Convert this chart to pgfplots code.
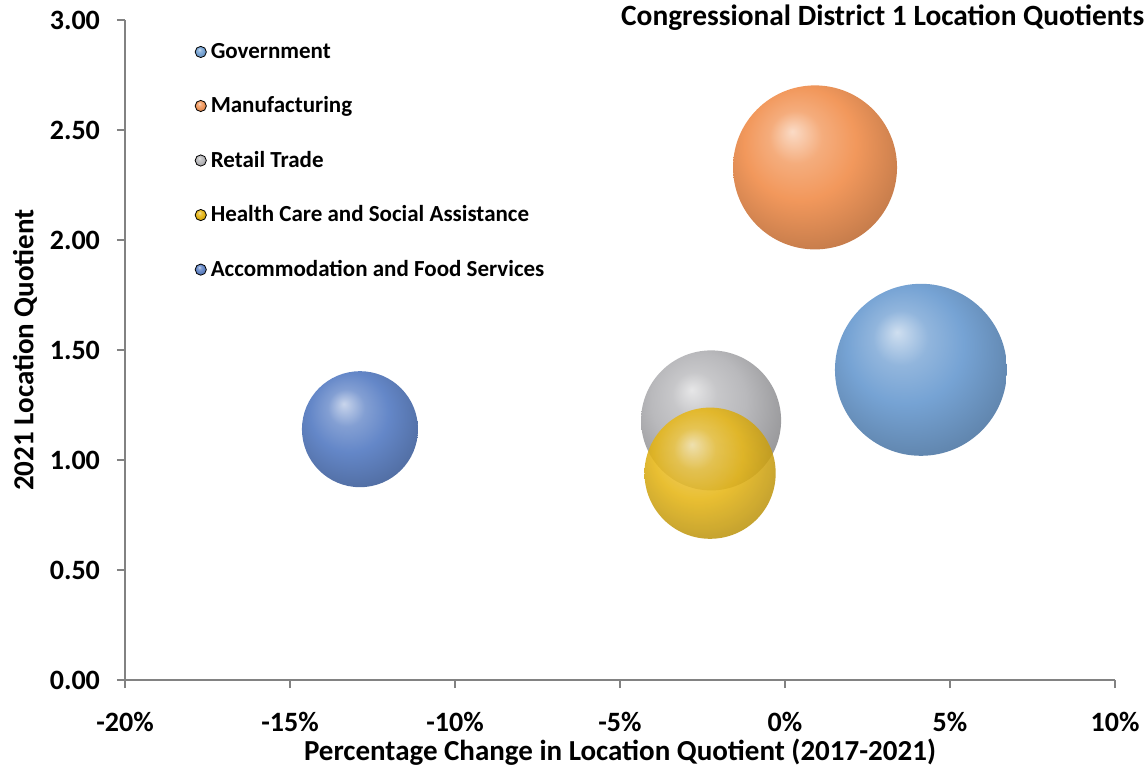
\documentclass[border=0pt]{standalone}
\usepackage{fontspec}
\setmainfont{Carlito}
\usepackage{pgfplots}
\pgfplotsset{compat=1.18}

\definecolor{govblue}{RGB}{118,163,212}
\definecolor{manorange}{RGB}{242,152,92}
\definecolor{retgray}{RGB}{185,185,188}
\definecolor{healthgold}{RGB}{230,182,22}
\definecolor{accblue}{RGB}{100,135,200}
\definecolor{axisgray}{RGB}{130,130,130}

% one shading and one plot mark per series
\newcommand\mkball[2]{%
  \pgfdeclareradialshading{#1shade}{\pgfpoint{-7bp}{11bp}}{%
    color(0bp)=(#2!35!white); color(8bp)=(#2!80!white); color(17bp)=(#2);
    color(30bp)=(#2!82!black); color(40bp)=(#2!76!black); color(50bp)=(#2!76!black)}%
  \pgfdeclareplotmark{#1ball}{%
    \pgfpathcircle{\pgfpointorigin}{\pgfplotmarksize}%
    \pgfshadepath{#1shade}{0}\pgfusepath{}}%
}
\mkball{gov}{govblue}
\mkball{man}{manorange}
\mkball{ret}{retgray}
\mkball{hea}{healthgold}
\mkball{acc}{accblue}

\begin{document}
\begin{tikzpicture}
\useasboundingbox (-62.5pt,-48pt) rectangle (509.5pt,340pt);
\begin{axis}[
    scale only axis,
    width=495pt, height=330pt,
    xmin=-20, xmax=10, ymin=0, ymax=3,
    xtick={-20,-15,...,10},
    ytick={0,0.5,...,3},
    xticklabel={\pgfmathprintnumber{\tick}\%},
    yticklabel style={xshift=-5pt, /pgf/number format/.cd, fixed, fixed zerofill, precision=2},
    /pgf/number format/assume math mode=true,
    ticklabel style={font=\fontsize{14}{16}\selectfont\bfseries},
    xticklabel style={yshift=-8.5pt},
    label style={font=\fontsize{14.5}{17}\selectfont\bfseries},
    xlabel style={at={(axis description cs:0.5,-0.11)}, anchor=center},
    ylabel style={at={(axis description cs:-0.101,0.5)}, anchor=center},
    axis x line*=bottom, axis y line*=left,
    axis line style={axisgray, line width=1pt},
    tick style={axisgray, line width=0.8pt},
    tick align=outside, major tick length=4pt,
    xlabel={Percentage Change in Location Quotient (2017-2021)},
    ylabel={2021 Location Quotient},
    clip=false,
    legend style={at={(0.064,0.978)}, anchor=north west, draw=none, fill=none,
        font=\fontsize{11.5}{13.8}\selectfont\bfseries, row sep=13.7pt,
        /tikz/every odd column/.style={column sep=0pt}},
    legend cell align=left,
]
\addplot[only marks, mark=govball, mark size=43pt,
    legend image code/.code={\shade[shading=govshade] (0.1cm,0) circle (2.8pt);}]
    coordinates {(4.12,1.41)};
\addlegendentry{Government}
\addplot[only marks, mark=manball, mark size=41pt,
    legend image code/.code={\shade[shading=manshade] (0.1cm,0) circle (2.8pt);}]
    coordinates {(0.91,2.33)};
\addlegendentry{Manufacturing}
\addplot[only marks, mark=retball, mark size=35pt,
    legend image code/.code={\shade[shading=retshade] (0.1cm,0) circle (2.8pt);}]
    coordinates {(-2.24,1.18)};
\addlegendentry{Retail Trade}
\addplot[only marks, mark=heaball, mark size=32.8pt, mark options={fill opacity=0.88},
    legend image code/.code={\shade[shading=heashade] (0.1cm,0) circle (2.8pt);}]
    coordinates {(-2.27,0.94)};
\addlegendentry{Health Care and Social Assistance}
\addplot[only marks, mark=accball, mark size=29pt,
    legend image code/.code={\shade[shading=accshade] (0.1cm,0) circle (2.8pt);}]
    coordinates {(-12.88,1.14)};
\addlegendentry{Accommodation and Food Services}
\node[anchor=west, font=\fontsize{14.7}{17}\selectfont\bfseries] at (rel axis cs:0.494,1.003) {Congressional District 1 Location Quotients};
\end{axis}
\end{tikzpicture}
\end{document}
